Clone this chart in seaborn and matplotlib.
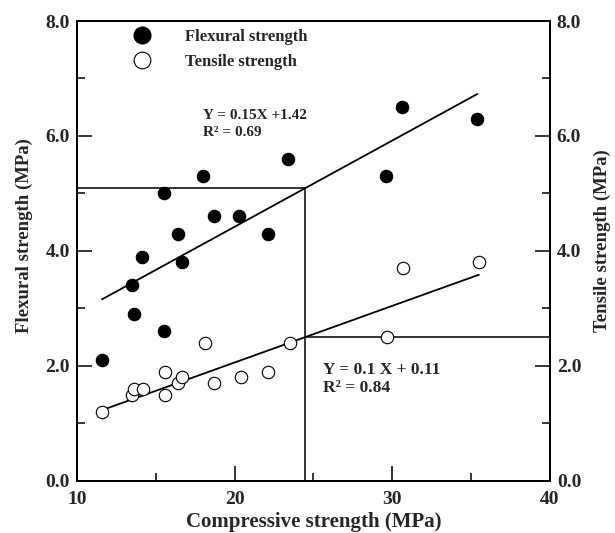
import numpy as np
import pandas as pd
import matplotlib
matplotlib.use("Agg")
import matplotlib.pyplot as plt
from matplotlib.lines import Line2D
import seaborn as sns

# ---- data ----
flex_x = [11.6, 13.5, 13.6, 14.1, 15.5, 15.5, 16.4, 16.7, 18.0, 18.7, 20.3, 22.1, 23.4, 29.6, 30.6, 35.4]
flex_y = [2.1, 3.4, 2.9, 3.9, 5.0, 2.6, 4.3, 3.8, 5.3, 4.6, 4.6, 4.3, 5.6, 5.3, 6.5, 6.3]
ten_x = [11.6, 13.5, 13.6, 14.2, 15.6, 15.6, 16.4, 16.7, 18.1, 18.7, 20.4, 22.1, 23.5, 29.7, 30.7, 35.5]
ten_y = [1.2, 1.5, 1.6, 1.6, 1.9, 1.5, 1.7, 1.8, 2.4, 1.7, 1.8, 1.9, 2.4, 2.5, 3.7, 3.8]

# fitted lines (as drawn in the picture)
flex_slope, flex_icpt = 0.15, 1.42
ten_slope, ten_icpt = 0.0985, 0.09
ref_x = 24.45
ref_ten_y = 2.5

eq_flex = ["Y = 0.15X +1.42", "R\u00b2 = 0.69"]
eq_ten = ["Y = 0.1 X + 0.11", "R\u00b2 = 0.84"]

xtick_vals = [10, 20, 30, 40]
ytick_vals = [0, 2, 4, 6, 8]
ytick_labels = ["0.0", "2.0", "4.0", "6.0", "8.0"]

sns.set_theme(style="ticks")
plt.rcParams["font.family"] = ["Liberation Serif", "DejaVu Serif"]
plt.rcParams["font.weight"] = "bold"

fig = plt.figure(figsize=(6.15, 5.33), dpi=100)
ax = fig.add_axes([0.125, 0.0976, 0.769, 0.863])

df_f = pd.DataFrame({"x": flex_x, "y": flex_y})
df_t = pd.DataFrame({"x": ten_x, "y": ten_y})

sns.scatterplot(data=df_f, x="x", y="y", ax=ax, color="black", s=80,
                edgecolor="black", linewidth=0.8, zorder=3, legend=False)
sns.scatterplot(data=df_t, x="x", y="y", ax=ax, facecolor="white", s=80,
                edgecolor="black", linewidth=0.8, zorder=3, legend=False)

# regression lines
fx = np.array([min(flex_x), max(flex_x)])
tx = np.array([min(ten_x) + 0.1, max(ten_x)])
sns.lineplot(x=fx, y=flex_slope * fx + flex_icpt, ax=ax, color="black", lw=1.3)
sns.lineplot(x=tx, y=ten_slope * tx + ten_icpt, ax=ax, color="black", lw=1.3)

# reference lines
ref_flex_y = flex_slope * ref_x + flex_icpt
ax.plot([10, ref_x], [ref_flex_y, ref_flex_y], color="black", lw=1.1)
ax.plot([ref_x, ref_x], [0, ref_flex_y], color="black", lw=1.1)
ax.plot([ref_x, 40], [ref_ten_y, ref_ten_y], color="black", lw=1.1)

ax.set_xlim(10, 40)
ax.set_ylim(0, 8)
ax.set_xticks(xtick_vals)
ax.set_xticklabels([str(v) for v in xtick_vals])
ax.set_xticks([15, 25, 35], minor=True)
ax.set_yticks(ytick_vals)
ax.set_yticklabels(ytick_labels)
ax.set_yticks([1, 3, 5, 7], minor=True)

for lab in ax.get_xticklabels() + ax.get_yticklabels():
    lab.set_fontsize(14)
    lab.set_fontweight("bold")

ax.tick_params(axis="both", which="major", direction="in", length=11, width=1.1, color="black")
ax.tick_params(axis="both", which="minor", direction="in", length=5.5, width=1.1, color="black")
ax.tick_params(axis="x", which="both", pad=7)
ax.tick_params(axis="y", which="both", pad=5)
for sp in ax.spines.values():
    sp.set_linewidth(1.4)
    sp.set_color("black")

ax.set_xlabel("Compressive strength (MPa)", fontsize=15, fontweight="bold", labelpad=3)
ax.set_ylabel("Flexural strength (MPa)", fontsize=13.5, fontweight="bold")
ax.yaxis.label.set_va("center")
ax.yaxis.set_label_coords(-0.112, 0.533)

ax2 = ax.twinx()
ax2.set_ylim(0, 8)
ax2.set_yticks(ytick_vals)
ax2.set_yticklabels(ytick_labels)
ax2.set_yticks([1, 3, 5, 7], minor=True)
for lab in ax2.get_yticklabels():
    lab.set_fontsize(14)
    lab.set_fontweight("bold")
ax2.tick_params(axis="y", which="major", direction="in", length=11, width=1.1, color="black", pad=5)
ax2.tick_params(axis="y", which="minor", direction="in", length=5.5, width=1.1, color="black")
ax2.set_ylabel("Tensile strength (MPa)", fontsize=13.5, fontweight="bold")
ax2.yaxis.label.set_va("center")
ax2.yaxis.set_label_coords(1.112, 0.522)
for sp in ax2.spines.values():
    sp.set_linewidth(1.4)
    sp.set_color("black")

# equations
ax.text(18.0, 6.35, eq_flex[0], fontsize=11, fontweight="bold", va="center")
ax.text(18.0, 6.06, eq_flex[1], fontsize=11, fontweight="bold", va="center")
ax.text(25.6, 1.93, eq_ten[0], fontsize=12.5, fontweight="bold", va="center")
ax.text(25.6, 1.61, eq_ten[1], fontsize=12.5, fontweight="bold", va="center")

# legend
handles = [
    Line2D([], [], marker="o", ls="", markersize=12, markerfacecolor="black", markeredgecolor="black"),
    Line2D([], [], marker="o", ls="", markersize=12, markerfacecolor="white", markeredgecolor="black", markeredgewidth=0.8),
]
ax.legend(handles, ["Flexural strength", "Tensile strength"], loc="upper left",
          bbox_to_anchor=(0.07, 1.015), frameon=False, handletextpad=1.6,
          labelspacing=0.55, prop={"family": "Liberation Serif", "weight": "bold", "size": 12})

fig.savefig("out.png", dpi=100)
